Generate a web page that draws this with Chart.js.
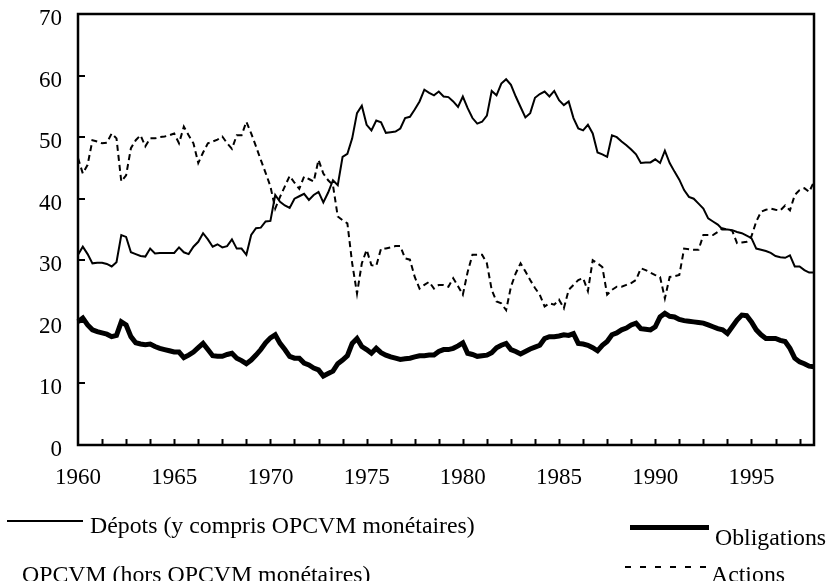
<!DOCTYPE html>
<html>
<head>
<meta charset="utf-8">
<script src="https://cdn.jsdelivr.net/npm/chart.js@4.4.1/dist/chart.umd.min.js"></script>
<style>
  body { margin: 0; background: #fff; }
  #wrap { position: relative; width: 830px; height: 581px; }
  .leg { position: absolute; font-family: "Liberation Serif", "Times New Roman", serif; font-size: 23px; line-height: 23px; color: #000; white-space: nowrap; transform: scaleX(1.035); transform-origin: left top; }
  .swatch { position: absolute; background: #000; }
</style>
</head>
<body>
<div id="wrap">
  <canvas id="chart"></canvas>
  <div class="swatch" style="left:7px; top:520px; width:76px; height:2px;"></div>
  <div class="leg" style="left:90px; top:514px;">Dépots (y compris OPCVM monétaires)</div>
  <div class="leg" style="left:22px; top:563px;">OPCVM (hors OPCVM monétaires)</div>
  <div class="swatch" style="left:630px; top:525px; width:79px; height:5px;"></div>
  <div class="leg" style="left:715px; top:526px;">Obligations</div>
  <div class="swatch" style="left:625px; top:566px; width:84px; height:2px; background: repeating-linear-gradient(to right, #000 0 6px, transparent 6px 15px);"></div>
  <div class="leg" style="left:711px; top:563px;">Actions</div>
</div>
<script>
// quarterly categories 1960T1 .. 1998T2
const quarters = [];
for (let y = 1960; y <= 1998; y++) {
    for (let q = 1; q <= 4; q++) {
        if (y === 1998 && q > 2) break;
        quarters.push(y + 'T' + q);
    }
}

// en % du patrimoine financier
const depots = [
    30.9, 32.2, 31.0, 29.5,  29.6, 29.6, 29.4, 29.0,  29.7, 34.1, 33.8, 31.3,  31.0, 30.7, 30.6, 31.9,
    31.1, 31.2, 31.2, 31.2,  31.2, 32.1, 31.3, 31.0,  32.2, 33.0, 34.4, 33.4,  32.2, 32.6, 32.1, 32.3,
    33.4, 31.9, 31.9, 30.9,  34.1, 35.2, 35.3, 36.3,  36.4, 40.6, 39.5, 38.9,  38.5, 40.0, 40.4, 40.8,
    39.8, 40.6, 41.1, 39.4,  41.0, 43.0, 42.2, 46.8,  47.3, 49.8, 53.9, 55.1,  52.0, 51.1, 52.7, 52.4,
    50.7, 50.8, 50.9, 51.4,  53.1, 53.3, 54.5, 55.8,  57.7, 57.2, 56.8, 57.4,  56.6, 56.5, 55.8, 54.9,
    56.6, 54.7, 53.1, 52.2,  52.5, 53.5, 57.5, 56.8,  58.7, 59.4, 58.5, 56.6,  54.9, 53.2, 53.9, 56.4,
    57.0, 57.4, 56.6, 57.5,  56.0, 55.2, 55.8, 53.1,  51.4, 51.1, 52.0, 50.6,  47.5, 47.2, 46.8, 50.3,
    50.0, 49.3, 48.7, 48.0,  47.2, 45.8, 45.9, 45.9,  46.4, 45.8, 47.8, 45.8,  44.4, 43.1, 41.4, 40.3,
    40.0, 39.2, 38.4, 36.8,  36.3, 35.8, 35.0, 35.0,  34.9, 34.6, 34.4, 34.0,  33.6, 31.9, 31.7, 31.5,
    31.2, 30.7, 30.5, 30.4,  30.8, 29.0, 29.0, 28.4,  28.0, 28.0
];

const obligations = [
    20.0, 20.6, 19.5, 18.7,  18.4, 18.2, 18.0, 17.6,  17.8, 20.0, 19.5, 17.6,  16.6, 16.4, 16.3, 16.4,
    16.0, 15.7, 15.5, 15.3,  15.1, 15.1, 14.2, 14.6,  15.1, 15.8, 16.5, 15.5,  14.5, 14.4, 14.4, 14.7,
    14.9, 14.1, 13.7, 13.2,  13.8, 14.6, 15.5, 16.6,  17.4, 17.9, 16.5, 15.5,  14.4, 14.1, 14.1, 13.3,
    13.0, 12.5, 12.2, 11.2,  11.6, 12.0, 13.2, 13.8,  14.5, 16.5, 17.3, 16.0,  15.5, 14.9, 15.7, 15.0,
    14.6, 14.3, 14.1, 13.9,  14.0, 14.1, 14.3, 14.5,  14.5, 14.6, 14.6, 15.2,  15.5, 15.5, 15.7, 16.1,
    16.6, 14.9, 14.7, 14.4,  14.5, 14.6, 15.0, 15.8,  16.2, 16.5, 15.5, 15.2,  14.8, 15.2, 15.6, 15.9,
    16.2, 17.3, 17.6, 17.6,  17.7, 17.9, 17.8, 18.1,  16.5, 16.4, 16.2, 15.8,  15.3, 16.2, 16.8, 17.9,
    18.2, 18.7, 19.0, 19.5,  19.8, 18.9, 18.8, 18.7,  19.2, 20.8, 21.4, 20.9,  20.8, 20.4, 20.2, 20.1,
    20.0, 19.9, 19.8, 19.5,  19.2, 18.9, 18.7, 18.1,  19.2, 20.3, 21.1, 21.0,  20.0, 18.7, 17.9, 17.3,
    17.3, 17.3, 17.0, 16.8,  15.7, 14.1, 13.5, 13.2,  12.8, 12.7
];

const actions = [
    46.6, 44.1, 45.5, 49.5,  49.3, 49.0, 49.1, 50.6,  49.8, 42.8, 43.8, 48.2,  49.5, 50.3, 48.5, 49.8,
    49.8, 50.0, 50.1, 50.3,  50.6, 49.0, 51.7, 50.3,  49.0, 45.8, 47.5, 49.0,  49.3, 49.6, 50.1, 49.0,
    48.1, 50.3, 50.3, 52.5,  50.6, 48.5, 46.3, 44.2,  42.0, 38.4, 40.3, 42.0,  43.7, 42.6, 41.6, 43.6,
    43.2, 42.8, 46.3, 44.1,  43.0, 42.2, 37.1, 36.5,  36.0, 29.5, 24.6, 29.5,  31.7, 29.2, 29.1, 31.9,
    31.9, 32.1, 32.3, 32.3,  30.3, 30.1, 27.3, 25.4,  26.0, 26.5, 25.4, 26.0,  26.0, 25.7, 27.1, 25.8,
    24.4, 28.1, 30.9, 30.9,  30.9, 29.5, 25.2, 23.3,  23.0, 21.9, 25.7, 27.9,  29.5, 28.2, 26.8, 25.5,
    24.4, 22.5, 23.0, 22.8,  23.6, 22.2, 25.2, 26.0,  26.8, 27.1, 25.0, 30.0,  29.5, 28.9, 24.4, 25.2,
    25.7, 25.7, 26.0, 26.3,  26.8, 28.7, 28.4, 28.0,  27.6, 27.3, 23.8, 27.3,  27.4, 27.6, 31.9, 31.8,
    31.7, 31.7, 34.1, 34.1,  34.1, 34.6, 35.2, 35.0,  34.8, 32.8, 32.9, 33.0,  33.9, 36.3, 37.9, 38.2,
    38.4, 38.2, 38.1, 38.9,  38.1, 40.6, 41.4, 41.7,  41.1, 42.8
];

const yTicks = [0, 10, 20, 30, 40, 50, 60, 70];

const serif = '"Liberation Serif", "Times New Roman", serif';

// frame around the plot + small inward tick marks (Excel style)
const framePlugin = {
    id: 'frame',
    afterDatasetsDraw(chart) {
        const ctx = chart.ctx;
        const a = chart.chartArea;
        const xs = chart.scales.x;
        const ys = chart.scales.y;
        ctx.save();
        ctx.strokeStyle = '#000';
        ctx.lineWidth = 2.5;
        ctx.strokeRect(a.left, a.top, a.right - a.left, a.bottom - a.top);
        ctx.lineWidth = 2;
        ctx.beginPath();
        for (let i = 5; i < quarters.length - 1; i += 5) {
            const px = Math.round(xs.getPixelForValue(i)) + 0.5;
            ctx.moveTo(px, a.bottom);
            ctx.lineTo(px, a.bottom - 6);
        }
        yTicks.slice(1, -1).forEach(v => {
            const py = Math.round(ys.getPixelForValue(v));
            ctx.moveTo(a.left, py);
            ctx.lineTo(a.left + 7, py);
        });
        ctx.stroke();
        ctx.restore();
    }
};

new Chart(document.getElementById('chart').getContext('2d'), {
    type: 'line',
    data: {
        labels: quarters,
        datasets: [{
            label: 'Dépots (y compris OPCVM monétaires)',
            data: depots,
            borderColor: '#000',
            borderWidth: 2,
            pointRadius: 0,
            tension: 0
        }, {
            label: 'Obligations',
            data: obligations,
            borderColor: '#000',
            borderWidth: 5,
            pointRadius: 0,
            tension: 0
        }, {
            label: 'Actions',
            data: actions,
            borderColor: '#000',
            borderWidth: 2,
            borderDash: [6, 4],
            pointRadius: 0,
            tension: 0
        }]
    },
    options: {
        responsive: true,
        maintainAspectRatio: false,
        animation: false,
        layout: {
            padding: { top: 14, right: 16, bottom: 81, left: 0 }
        },
        scales: {
            x: {
                type: 'category',
                offset: false,
                grid: { display: false },
                border: { display: false },
                afterFit: function(scale) {
                    scale.height = 55;
                    scale.paddingLeft = 0;
                    scale.paddingRight = 0;
                },
                ticks: {
                    autoSkip: false,
                    maxRotation: 0,
                    padding: 11,
                    color: '#000',
                    font: { family: serif, size: 23 },
                    callback: function(value, index) {
                        return index % 20 === 0 ? this.getLabelForValue(value).slice(0, 4) : '';
                    }
                }
            },
            y: {
                min: 0,
                max: 70,
                grid: { display: false },
                border: { display: false },
                afterFit: function(scale) {
                    scale.width = 78;
                    scale.paddingTop = 0;
                    scale.paddingBottom = 0;
                },
                ticks: {
                    stepSize: 10,
                    padding: 8,
                    labelOffset: 5,
                    color: '#000',
                    font: { family: serif, size: 23 }
                }
            }
        },
        plugins: {
            legend: { display: false },
            tooltip: { enabled: false }
        }
    },
    plugins: [framePlugin]
});
</script>
</body>
</html>
